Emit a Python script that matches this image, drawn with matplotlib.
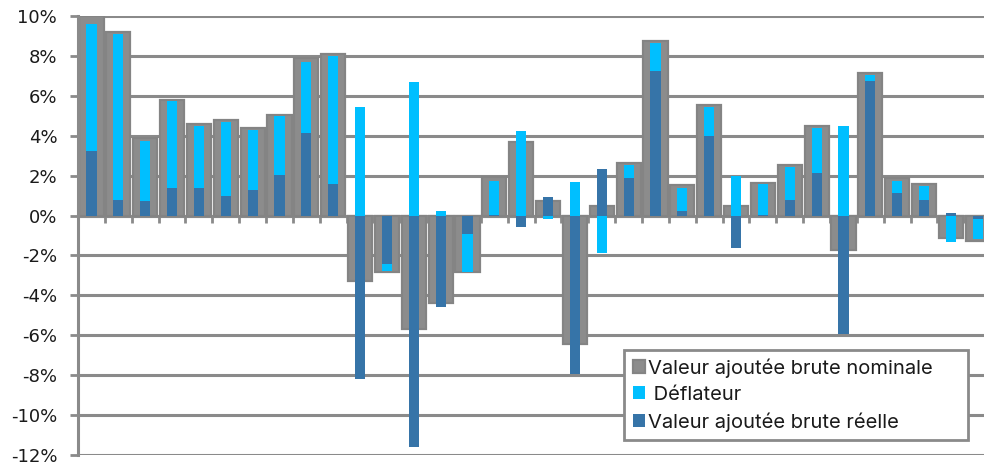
import numpy as np
import matplotlib
matplotlib.use("Agg")
import matplotlib.pyplot as plt
from matplotlib.ticker import FuncFormatter, MultipleLocator, FixedLocator

# annual growth rates, in %
nominal = [10.0, 9.2, 3.9, 5.8, 4.6, 4.8, 4.4, 5.05, 7.9, 8.1, -3.3, -2.85, -5.67, -4.37, -2.84, 1.92, 3.67,
           0.75, -6.43, 0.47, 2.64, 8.77, 1.54, 5.56, 0.47, 1.62, 2.56, 4.51, -1.72, 7.15, 1.89, 1.59, -1.13, -1.25]
deflator = [9.6, 9.1, 3.76, 5.73, 4.51, 4.7, 4.3, 4.98, 7.72, 8.0, 5.46, -2.8, 6.68, 0.25, -2.84, 1.75, 4.23,
            -0.17, 1.67, -1.87, 2.54, 8.66, 1.39, 5.46, 1.97, 1.59, 2.42, 4.4, 4.48, 7.07, 1.75, 1.47, -1.3, -1.15]
real = [3.26, 0.8, 0.75, 1.39, 1.39, 1.0, 1.3, 2.05, 4.12, 1.6, -8.2, -2.45, -11.6, -4.6, -0.9, 0.05, -0.58,
        0.92, -7.94, 2.34, 1.87, 7.23, 0.25, 4.01, -1.62, 0.02, 0.8, 2.14, -5.93, 6.77, 1.12, 0.8, 0.15, -0.17]

labels = ["Valeur ajoutée brute nominale", " Déflateur", "Valeur ajoutée brute réelle"]

GRAY = '#8c8c8c'
EDGE = '#848484'
CYAN = '#00bfff'
BLUE = '#3674a8'
LINE = '#8a8a8a'

plt.rcParams['font.family'] = ['DejaVu Sans']

fig = plt.figure(figsize=(9.84, 4.63), dpi=100)
ax = fig.add_axes([0.0793, 0.0173, 0.928, 0.948])

x = np.arange(len(nominal))
ax.bar(x, nominal, width=0.9, color=GRAY, edgecolor=EDGE, linewidth=1.6, label=labels[0], zorder=2)
ax.bar(x, deflator, width=0.38, color=CYAN, linewidth=0, label=labels[1], zorder=3)
ax.bar(x, real, width=0.38, color=BLUE, linewidth=0, label=labels[2], zorder=4)

ax.set_xlim(-0.5, len(nominal) - 0.5)
ax.set_ylim(-12, 10)
ax.yaxis.set_major_locator(MultipleLocator(2))
ax.yaxis.set_major_formatter(FuncFormatter(lambda v, p: f"{v:.0f}%"))
ax.grid(axis='y', color=LINE, lw=2.2, zorder=0)
ax.set_axisbelow(True)

for s in ['top', 'right']:
    ax.spines[s].set_visible(False)
ax.spines['left'].set_color(LINE)
ax.spines['left'].set_linewidth(2.2)
ax.spines['bottom'].set_position(('data', 0))
ax.spines['bottom'].set_color(LINE)
ax.spines['bottom'].set_linewidth(2.2)
ax.spines['bottom'].set_zorder(1)

# category separators on the zero axis
ax.xaxis.set_major_locator(FixedLocator(x[1:] - 0.5))
ax.tick_params(axis='x', direction='out', length=5, width=2, color=LINE, labelbottom=False)
ax.tick_params(axis='y', direction='out', length=6, width=2, color=LINE, labelsize=13, pad=9,
               labelcolor='#1a1a1a')

# fixed legend box, entries left-aligned inside it
leg = ax.legend(loc='lower left', bbox_to_anchor=(0.598, 0.034, 0.377, 0.207), mode='expand',
                borderaxespad=0, prop={'family': 'Inter', 'size': 14.5},
                frameon=True, fancybox=False, handlelength=0.62, handleheight=0.62, handletextpad=0.15,
                labelspacing=0.4, borderpad=0.42, edgecolor=LINE, framealpha=1)
leg.get_frame().set_linewidth(2)
for t in leg.get_texts():
    t.set_color('#1a1a1a')

fig.savefig('out.png', dpi=100)
